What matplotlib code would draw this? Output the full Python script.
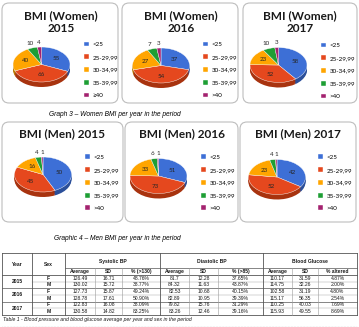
import matplotlib
matplotlib.use("Agg")
import matplotlib.pyplot as plt
from matplotlib.patches import FancyBboxPatch
import numpy as np

# BMI classes
labels_a = ["<25", "25-29,99", "30-34,99", "35-39,99", "\u226540"]
labels_b = ["<25", "25-29,99", "30-34,99", "35-39,99", ">40"]

women_2015 = [55, 66, 40, 10, 4]
women_2016 = [37, 54, 27, 7, 3]
women_2017 = [58, 52, 23, 10, 3]
men_2015 = [50, 45, 16, 4, 1]
men_2016 = [51, 73, 33, 6, 1]
men_2017 = [42, 52, 23, 4, 1]

# table 1
table_years = ["2015", "2016", "2017"]
table_sex = ["F", "M", "F", "M", "F", "M"]
sys_avg = ["126.49", "130.02", "127.73", "128.78", "122.83", "130.58"]
sys_sd = ["16.71", "15.72", "15.87", "17.61", "16.08", "14.82"]
sys_pct = ["48.76%", "38.77%", "49.24%", "50.90%", "38.09%", "83.25%"]
dia_avg = ["81.7", "84.32", "82.53", "82.89", "79.82", "83.26"]
dia_sd = ["12.28", "11.63", "10.68", "10.95", "15.76", "12.46"]
dia_pct = ["37.65%", "43.87%", "40.15%", "39.39%", "31.29%", "39.16%"]
glu_avg = ["110.17", "114.75", "102.58", "115.17", "110.25", "115.93"]
glu_sd = ["31.59", "32.26", "31.19", "56.35", "40.03", "49.55"]
glu_pct = ["4.87%", "2.00%", "4.80%", "2.54%", "7.69%", "8.69%"]

colors = ["#3D6FD6", "#E5481E", "#FFA500", "#1E9E34", "#A3226F"]
dark = ["#2B4F9A", "#A8330F", "#BA7A00", "#14702A", "#75184F"]

W, H = 359, 327
fig = plt.figure(figsize=(W / 100, H / 100), dpi=100)
bg = fig.add_axes([0, 0, 1, 1])
bg.set_xlim(0, W)
bg.set_ylim(H, 0)
bg.axis("off")


def box(x0, y0, x1, y1):
    bg.add_patch(FancyBboxPatch((x0, y0), x1 - x0, y1 - y0,
                                boxstyle="round,pad=0,rounding_size=7",
                                fc="white", ec="#BDBDBD", lw=0.8))


def draw_pie(values, labels, cx, cy, lx, ly, rx=28.5, ry=17.5, depth=5):
    ax = fig.add_axes([(cx - 1.6 * rx) / W, 1 - (cy + 1.5 * ry + depth) / H,
                       3.2 * rx / W, (3.0 * ry + depth) / H])
    # side of the 3d pie
    for k in range(depth, 0, -1):
        ax.pie(values, colors=dark, startangle=90, counterclock=False,
               center=(0, -k / ry), wedgeprops=dict(linewidth=0))
    wedges, _ = ax.pie(values, colors=colors, startangle=90, counterclock=False,
                       wedgeprops=dict(edgecolor="white", linewidth=0.3))
    ax.set_aspect("auto")
    ax.set_xlim(-1.6, 1.6)
    ax.set_ylim(-1.5 - depth / ry, 1.5)
    total = sum(values)
    for w, v in zip(wedges, values):
        ang = np.deg2rad((w.theta1 + w.theta2) / 2)
        r = 0.6 if v / total > 0.1 else 1.28
        ax.text(r * np.cos(ang), r * np.sin(ang), str(v), ha="center", va="center",
                fontsize=4.5, color="#262626", family="Lato")
    ax.legend(wedges, labels, loc="upper left",
              bbox_to_anchor=(lx / W, 1 - ly / H), bbox_transform=fig.transFigure,
              frameon=False, prop=dict(family="Lato", size=4.5),
              handlelength=0.8, handleheight=0.8, handletextpad=0.6,
              labelspacing=1.15, borderpad=0, borderaxespad=0)


title_font = dict(family="Lato", weight="bold", size=8.5, color="#1a1a1a",
                  ha="center", va="center")

# women row
box(2, 3, 118, 103)
box(122, 3, 238, 103)
box(243, 3, 357, 103)
for x, yr in zip([61, 181, 300], table_years):
    bg.text(x, 15.5, "BMI (Women)", **title_font)
    bg.text(x, 28.5, yr, **title_font)

bg.text(115, 114, "Graph 3 \u2013 Women BMI per year in the period", ha="center",
        va="center", fontsize=4.8, style="italic", family="Liberation Sans")

# men row
box(2, 122, 123, 222)
box(125, 122, 238, 222)
box(240, 122, 356, 222)
for x, yr in zip([62, 182, 298], table_years):
    bg.text(x, 134, "BMI (Men) " + yr, **title_font)

bg.text(117, 238, "Graphic 4 \u2013 Men BMI per year in the period", ha="center",
        va="center", fontsize=4.8, style="italic", family="Liberation Sans")

draw_pie(women_2015, labels_a, 41.5, 64.5, 84, 41.5)
draw_pie(women_2016, labels_b, 161, 65.5, 203, 41.5)
draw_pie(women_2017, labels_b, 278.5, 65, 321, 42.5)
draw_pie(men_2015, labels_b, 43, 174.5, 85, 154.5)
draw_pie(men_2016, labels_b, 158.5, 176, 201, 154.5)
draw_pie(men_2017, labels_b, 277, 177, 318, 154.5)

# table
cols = [2, 32, 65, 95, 122, 160, 189, 218, 263, 292, 318, 357]
top, mid, sub = 253, 268, 275
row_h = (315 - sub) / 6
rows = [sub + i * row_h for i in range(7)]
dk = "#555555"
lt = "#9A9A9A"
tfont = dict(family="Liberation Sans", size=3.6, ha="center", va="center", color="#1a1a1a")

bg.plot([cols[0], cols[-1]], [top, top], color=dk, lw=0.6)
bg.plot([cols[2], cols[-1]], [mid, mid], color=dk, lw=0.5)
bg.plot([cols[0], cols[-1]], [sub, sub], color=dk, lw=0.6)
for i in (2, 4):
    bg.plot([cols[0], cols[-1]], [rows[i], rows[i]], color=dk, lw=0.5)
for i in (1, 3, 5):
    bg.plot([cols[1], cols[-1]], [rows[i], rows[i]], color=lt, lw=0.3)
bg.plot([cols[0], cols[-1]], [rows[6], rows[6]], color=dk, lw=0.6)
for i in (0, 1, 2, 5, 8, 11):
    bg.plot([cols[i], cols[i]], [top, rows[6]], color=dk, lw=0.6)
for i in (3, 4, 6, 7, 9, 10):
    bg.plot([cols[i], cols[i]], [mid, rows[6]], color=lt, lw=0.4)

bg.text((cols[0] + cols[1]) / 2, 264, "Year", weight="bold", **tfont)
bg.text((cols[1] + cols[2]) / 2, 264, "Sex", weight="bold", **tfont)
for g, name in enumerate(["Systolic BP", "Diastolic BP", "Blood Glucose"]):
    bg.text((cols[2 + 3 * g] + cols[5 + 3 * g]) / 2, 261.5, name, weight="bold", **tfont)
sub_heads = ["Average", "SD", "% (>130)", "Average", "SD", "% (>85)",
             "Average", "SD", "% altered"]
for j, s in enumerate(sub_heads):
    bg.text((cols[2 + j] + cols[3 + j]) / 2, (mid + sub) / 2, s, weight="bold", **tfont)

for k, yr in enumerate(table_years):
    bg.text((cols[0] + cols[1]) / 2, rows[2 * k + 1], yr, weight="bold", **tfont)

data_cols = [sys_avg, sys_sd, sys_pct, dia_avg, dia_sd, dia_pct, glu_avg, glu_sd, glu_pct]
for i in range(6):
    yc = (rows[i] + rows[i + 1]) / 2
    bg.text((cols[1] + cols[2]) / 2, yc, table_sex[i], weight="bold", **tfont)
    for j, col in enumerate(data_cols):
        bg.text((cols[2 + j] + cols[3 + j]) / 2, yc, col[i], **tfont)

bg.text(3, 320, "Table 1 - Blood pressure and blood glucose average per year and sex in the period",
        ha="left", va="center", fontsize=3.7, style="italic", family="Liberation Sans",
        color="#1a1a1a")
bg.plot([cols[0], cols[-1]], [325.5, 325.5], color="#DDDDDD", lw=0.4, ls=":")

fig.savefig("out.png", dpi=100)
